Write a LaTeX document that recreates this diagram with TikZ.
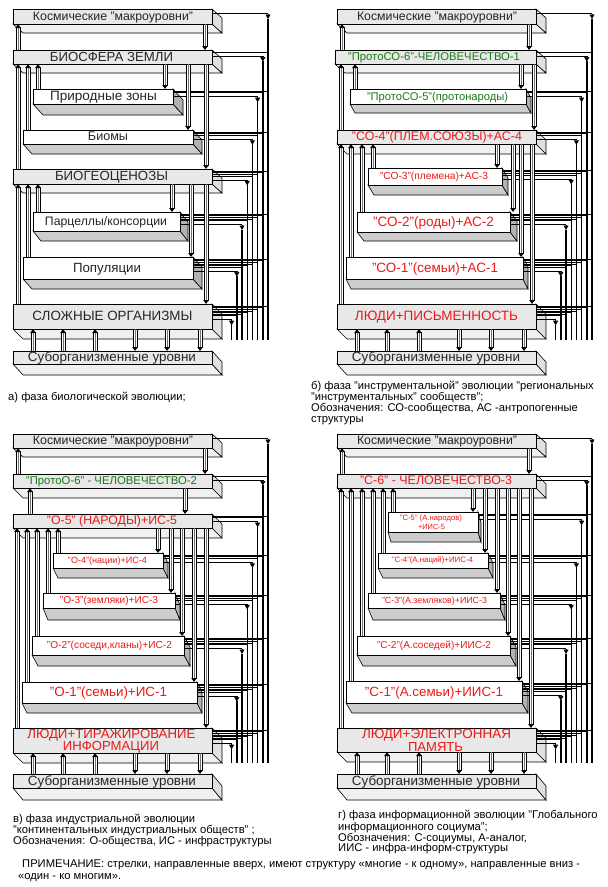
\documentclass[tikz,border=0pt]{standalone}
\usepackage{fontspec}
\setmainfont{Liberation Sans}
\usepackage{graphicx}
\usetikzlibrary{arrows.meta}
\definecolor{redt}{RGB}{238,24,24}
\definecolor{greent}{RGB}{24,122,24}
\tikzset{
 majfront/.style={fill=gray!18, draw=black, line width=0.6pt},
 majbot/.style={fill=gray!12, draw=black, line width=0.6pt},
 majside/.style={fill=gray!24, draw=black, line width=0.6pt},
 minfront/.style={fill=white, draw=black, line width=0.8pt},
 minbot/.style={fill=gray!40, draw=black, line width=0.6pt},
 minside/.style={fill=gray!60, draw=black, line width=0.6pt},
 lbl/.style={inner sep=0pt},
 bline/.style={line width=0.6pt},
 vline/.style={line width=1.4pt},
 captxt/.style={anchor=base west, inner sep=0pt, font=\fontsize{11.2}{12}\selectfont},
 arrbar/.style={fill=white, draw=black, line width=0.5pt},
 arrshade/.style={draw=black!55, line width=1.1pt},
}
% slab: name, x1, y1, x2, y2, dx, dy, kind (maj/min)
\newcommand{\Slab}[8]{%
 \filldraw[#8bot] (#2,#5) -- (#4,#5) -- ({#4+#6},{#5+#7}) -- ({#2+#6},{#5+#7}) -- cycle;
 \filldraw[#8side] (#4,#3) -- ({#4+#6},{#3+#7}) -- ({#4+#6},{#5+#7}) -- (#4,#5) -- cycle;
 \filldraw[#8front] (#2,#3) rectangle (#4,#5);
 \coordinate (#1) at ({(#2+#4)/2},{(#3+#5)/2});
}
% label: name, x, y, width, colour, text
\newcommand{\Lbl}[6]{\node[lbl,text=#5] (#1) at (#2,#3) {\resizebox{#4pt}{!}{#6\vphantom{Ёу}}};}
% line of a two-line label (no extra strut): name, x, y, width, colour, text
\newcommand{\LblL}[6]{\node[lbl,text=#5] (#1) at (#2,#3) {\resizebox{#4pt}{!}{#6}};}
% down arrow: x, ytop, ybot
\newcommand{\DA}[3]{%
 \filldraw[arrbar] ({#1-1.8},#2) rectangle ({#1+1.8},{#3-3.5});
 \draw[arrshade] ({#1+0.5},#2) -- ({#1+0.5},{#3-3.5});
 \fill ({#1-2.8},{#3-4}) -- ({#1+2.8},{#3-4}) -- (#1,#3) -- cycle;}
% up arrow: x, ybot, ytop
\newcommand{\UA}[3]{%
 \filldraw[arrbar] ({#1-1.8},#2) rectangle ({#1+1.8},{#3+3.5});
 \draw[arrshade] ({#1+0.5},#2) -- ({#1+0.5},{#3+3.5});
 \fill ({#1-2.8},{#3+4}) -- ({#1+2.8},{#3+4}) -- (#1,#3) -- cycle;}
% right-hand bundle: panel x offset, bottom y, list xr/ytop
\newcommand{\Bundle}[3]{%
 \foreach \xr/\yt [count=\j] in {#3} {
   \pgfmathsetmacro{\yo}{\yt+2+1.6*(\j-1)+2.5}
   \pgfmathsetmacro{\xo}{#1+268-(\j-1)*5.2}
   \draw[vline] ({\xo},{\yo+5}) -- ({\xo},#2);
   \draw[bline] ({\xr},{\yo}) -- ({\xo},{\yo});
   \draw[bline,-{Triangle[width=5pt,length=4.5pt]}] ({\xo},{\yo}) -- ({\xo},{\yo+5.5});
   \ifnum\j>1
     \pgfmathtruncatemacro{\jm}{\j-1}
     \foreach \k in {1,...,\jm} {
       \pgfmathsetmacro{\yk}{\yt+2+1.6*(\k-1)}
       \pgfmathsetmacro{\xk}{#1+268-(\k-1)*5.2}
       \draw[bline] ({\xr},{\yk}) -- ({\xk},{\yk});
     }
   \fi
 }
}
\begin{document}
\begin{tikzpicture}[x=1pt,y=-1pt]
\useasboundingbox (0,0) rectangle (608,887);
\fill[white] (0,0) rectangle (608,887);

% ---------------- panel a ----------------
\Slab{sa1}{13}{9}{212}{24}{10}{9}{maj}
\Slab{sa2}{13}{50}{212}{64}{10}{9}{maj}
\Slab{sa3}{33}{89}{173}{104}{10}{11}{min}
\Slab{sa4}{23}{130}{193}{144}{9}{10}{min}
\Slab{sa5}{13}{169}{212}{184}{10}{9}{maj}
\Slab{sa6}{33}{212}{180}{231}{8}{10}{min}
\Slab{sa7}{23}{257}{193}{279}{9}{10}{min}
\Slab{sa8}{13}{304}{212}{329}{10}{10}{maj}
\Slab{sa9}{13}{351}{212}{364}{10}{11}{maj}
% ---------------- panel b ----------------
\Slab{sb1}{337}{9}{536}{24}{10}{9}{maj}
\Slab{sb2}{335}{50}{536}{64}{10}{9}{maj}
\Slab{sb3}{350}{89}{526}{104}{5}{9}{min}
\Slab{sb4}{337}{130}{536}{144}{10}{10}{maj}
\Slab{sb5}{368}{168}{502}{185}{6}{10}{min}
\Slab{sb6}{357}{212}{510}{232}{7}{9}{min}
\Slab{sb7}{346}{257}{523}{279}{5}{10}{min}
\Slab{sb8}{337}{304}{536}{329}{10}{10}{maj}
\Slab{sb9}{337}{351}{536}{364}{10}{11}{maj}
% ---------------- panel c ----------------
\Slab{sc1}{13}{434}{212}{448}{10}{9}{maj}
\Slab{sc2}{13}{474}{212}{488}{10}{10}{maj}
\Slab{sc3}{13}{514}{212}{528}{10}{10}{maj}
\Slab{sc4}{53}{553}{163}{568}{5}{10}{min}
\Slab{sc5}{43}{593}{175}{608}{5}{12}{min}
\Slab{sc6}{32}{636}{184}{655}{6}{11}{min}
\Slab{sc7}{22}{682}{197}{703}{5}{10}{min}
\Slab{sc8}{13}{728}{212}{753}{10}{10}{maj}
\Slab{sc9}{13}{774}{212}{788}{10}{12}{maj}
% ---------------- panel d ----------------
\Slab{sd1}{337}{434}{536}{448}{10}{9}{maj}
\Slab{sd2}{337}{474}{536}{488}{10}{10}{maj}
\Slab{sd3}{388}{512}{478}{532}{3}{10}{min}
\Slab{sd4}{378}{553}{488}{568}{5}{10}{min}
\Slab{sd5}{368}{593}{500}{608}{5}{12}{min}
\Slab{sd6}{357}{636}{510}{655}{6}{11}{min}
\Slab{sd7}{346}{681}{522}{703}{6}{10}{min}
\Slab{sd8}{337}{728}{536}{752}{10}{10}{maj}
\Slab{sd9}{337}{774}{536}{788}{10}{12}{maj}

% ---------------- bundles ----------------
\Bundle{0}{340}{212/9, 212/50, 173/89, 193/130, 212/169, 180/212, 193/257, 212/304}
\Bundle{324}{340}{536/9, 536/50, 526/89, 536/130, 502/168, 510/212, 523/257, 536/304}
\Bundle{0}{763}{212/434, 212/474, 212/514, 163/553, 175/593, 184/636, 197/682, 212/728}
\Bundle{324}{763}{536/434, 536/474, 478/512, 488/553, 500/593, 510/636, 522/681, 536/728}

% ---------------- arrows panel a ----------------
\UA{18}{50}{24} \DA{205}{24}{50}
\DA{165}{64}{89} \UA{38}{89}{64}
\DA{188}{64}{130} \UA{28}{130}{64}
\DA{206}{64}{169} \UA{18}{169}{64}
\DA{172}{184}{212} \UA{38}{212}{184}
\DA{191}{184}{257} \UA{28}{257}{184}
\DA{206}{184}{304} \UA{18}{304}{184}
\UA{33}{351}{329} \UA{63}{351}{329} \UA{95}{351}{329}
\DA{135}{329}{351} \DA{167}{329}{351} \DA{200}{329}{351}
% ---------------- arrows panel b ----------------
\UA{342}{50}{24} \DA{529}{24}{50}
\DA{521}{64}{89} \UA{355}{89}{64}
\DA{534}{64}{130} \UA{341}{130}{64}
\DA{497}{144}{168} \UA{373}{168}{144}
\DA{513}{144}{212} \UA{362}{212}{144}
\DA{521}{144}{257} \UA{351}{257}{144}
\DA{532}{144}{304} \UA{341}{304}{144}
\UA{357}{351}{329} \UA{387}{351}{329} \UA{419}{351}{329}
\DA{459}{329}{351} \DA{491}{329}{351} \DA{524}{329}{351}
% ---------------- arrows panel c ----------------
\UA{18}{474}{448} \DA{205}{448}{474}
\UA{30}{514}{488} \DA{185}{488}{514}
\DA{158}{528}{553} \UA{58}{553}{528}
\DA{171}{528}{593} \UA{48}{593}{528}
\DA{182}{528}{636} \UA{37}{636}{528}
\DA{194}{528}{682} \UA{27}{682}{528}
\DA{206}{528}{728} \UA{17}{728}{528}
\UA{33}{774}{753} \UA{63}{774}{753} \UA{95}{774}{753}
\DA{135}{753}{774} \DA{167}{753}{774} \DA{200}{753}{774}
% ---------------- arrows panel d ----------------
\UA{342}{474}{448} \DA{529}{448}{474}
\DA{473}{488}{512} \UA{393}{512}{488}
\DA{485}{488}{553} \UA{383}{553}{488}
\DA{497}{488}{593} \UA{373}{593}{488}
\DA{508}{488}{636} \UA{362}{636}{488}
\DA{519}{488}{681} \UA{351}{681}{488}
\DA{531}{488}{728} \UA{341}{728}{488}
\UA{357}{774}{752} \UA{387}{774}{752} \UA{419}{774}{752}
\DA{459}{752}{774} \DA{491}{752}{774} \DA{524}{752}{774}

% ---------------- labels ----------------
\Lbl{ta1}{113}{16.5}{160}{black!85}{Космические "макроуровни"}
\Lbl{ta2}{111.5}{57}{123}{black!85}{БИОСФЕРА ЗЕМЛИ}
\Lbl{ta3}{103.5}{96.5}{107}{black!85}{Природные зоны}
\Lbl{ta4}{108}{137}{40}{black!85}{Биомы}
\Lbl{ta5}{111.5}{176.5}{113}{black!85}{БИОГЕОЦЕНОЗЫ}
\Lbl{ta6}{106}{221.5}{122}{black!85}{Парцеллы/консорции}
\Lbl{ta7}{107}{268}{68}{black!85}{Популяции}
\Lbl{ta8}{112.5}{316.5}{160}{black!85}{СЛОЖНЫЕ ОРГАНИЗМЫ}
\Lbl{ta9}{112}{357.5}{168}{black!85}{Суборганизменные уровни}

\Lbl{tb1}{437}{16.5}{160}{black!85}{Космические "макроуровни"}
\Lbl{tb2}{434}{57}{172}{greent}{"ПротоСО-6"-ЧЕЛОВЕЧЕСТВО-1}
\Lbl{tb3}{437.5}{96.5}{141}{greent}{"ПротоСО-5"(протонароды)}
\Lbl{tb4}{437}{137}{170}{redt}{"СО-4"(ПЛЕМ.СОЮЗЫ)+АС-4}
\Lbl{tb5}{434}{176.5}{108}{redt}{"СО-3"(племена)+АС-3}
\Lbl{tb6}{433.5}{222}{121}{redt}{"СО-2"(роды)+АС-2}
\Lbl{tb7}{435}{268}{126}{redt}{"СО-1"(семьи)+АС-1}
\Lbl{tb8}{436.5}{316.5}{163}{redt}{ЛЮДИ+ПИСЬМЕННОСТЬ}
\Lbl{tb9}{436}{357.5}{168}{black!85}{Суборганизменные уровни}

\Lbl{tc1}{113}{441}{160}{black!85}{Космические "макроуровни"}
\Lbl{tc2}{111.5}{481}{171}{greent}{"ПротоО-6" - ЧЕЛОВЕЧЕСТВО-2}
\Lbl{tc3}{112}{521}{130}{redt}{"О-5" (НАРОДЫ)+ИС-5}
\Lbl{tc4}{107.5}{560.5}{79}{redt}{"О-4"(нации)+ИС-4}
\Lbl{tc5}{109}{600.5}{98}{redt}{"О-3"(земляки)+ИС-3}
\Lbl{tc6}{109.5}{645.5}{125}{redt}{"О-2"(соседи,кланы)+ИС-2}
\Lbl{tc7}{108.5}{692.5}{117}{redt}{"О-1"(семьи)+ИС-1}
\LblL{tc8a}{111.5}{735}{168}{redt}{ЛЮДИ+ТИРАЖИРОВАНИЕ}
\LblL{tc8b}{111}{747.5}{96}{redt}{ИНФОРМАЦИИ}
\Lbl{tc9}{112}{781}{168}{black!85}{Суборганизменные уровни}

\Lbl{td1}{437}{441}{160}{black!85}{Космические "макроуровни"}
\Lbl{td2}{436}{481}{152}{redt}{"С-6" - ЧЕЛОВЕЧЕСТВО-3}
\LblL{td3a}{431}{518.5}{62}{redt}{"С-5" (А.народов)}
\LblL{td3b}{431.5}{527}{27}{redt}{+ИИС-5}
\Lbl{td4}{432.5}{560.5}{81}{redt}{"С-4"(А.наций)+ИИС-4}
\Lbl{td5}{434.5}{600.5}{105}{redt}{"С-3"(А.земляков)+ИИС-3}
\Lbl{td6}{434}{645.5}{114}{redt}{"С-2"(А.соседей)+ИИС-2}
\Lbl{td7}{434}{692}{138}{redt}{"С-1"(А.семьи)+ИИС-1}
\LblL{td8a}{436.5}{735.5}{149}{redt}{ЛЮДИ+ЭЛЕКТРОННАЯ}
\LblL{td8b}{435.5}{747}{55}{redt}{ПАМЯТЬ}
\Lbl{td9}{436}{781}{168}{black!85}{Суборганизменные уровни}

% ---------------- captions ----------------
\node[captxt] (capa) at (8,400) {а) фаза биологической эволюции;};
\node[captxt] (capb1) at (311,389) {б) фаза "инструментальной" эволюции "региональных};
\node[captxt] (capb2) at (311,400) {"инструментальных" сообществ";};
\node[captxt] (capb3) at (311,411) {Обозначения: СО-сообщества, АС -антропогенные};
\node[captxt] (capb4) at (311,422) {структуры};
\node[captxt] (capc1) at (13,822) {в) фаза индустриальной эволюции};
\node[captxt] (capc2) at (13,833) {"континентальных индустриальных обществ" ;};
\node[captxt] (capc3) at (13,844) {Обозначения: О-общества, ИС - инфраструктуры};
\node[captxt] (capd1) at (338,818) {г) фаза информационной эволюции "Глобального};
\node[captxt] (capd2) at (338,830) {информационного социума";};
\node[captxt] (capd3) at (338,841) {Обозначения: С-социумы, А-аналог,};
\node[captxt] (capd4) at (338,851) {ИИС - инфра-информ-структуры};
\node[captxt] (note1) at (22,867) {ПРИМЕЧАНИЕ: стрелки, направленные вверх, имеют структуру «многие - к одному», направленные вниз -};
\node[captxt] (note2) at (18,879) {«один - ко многим».};
\end{tikzpicture}
\end{document}
